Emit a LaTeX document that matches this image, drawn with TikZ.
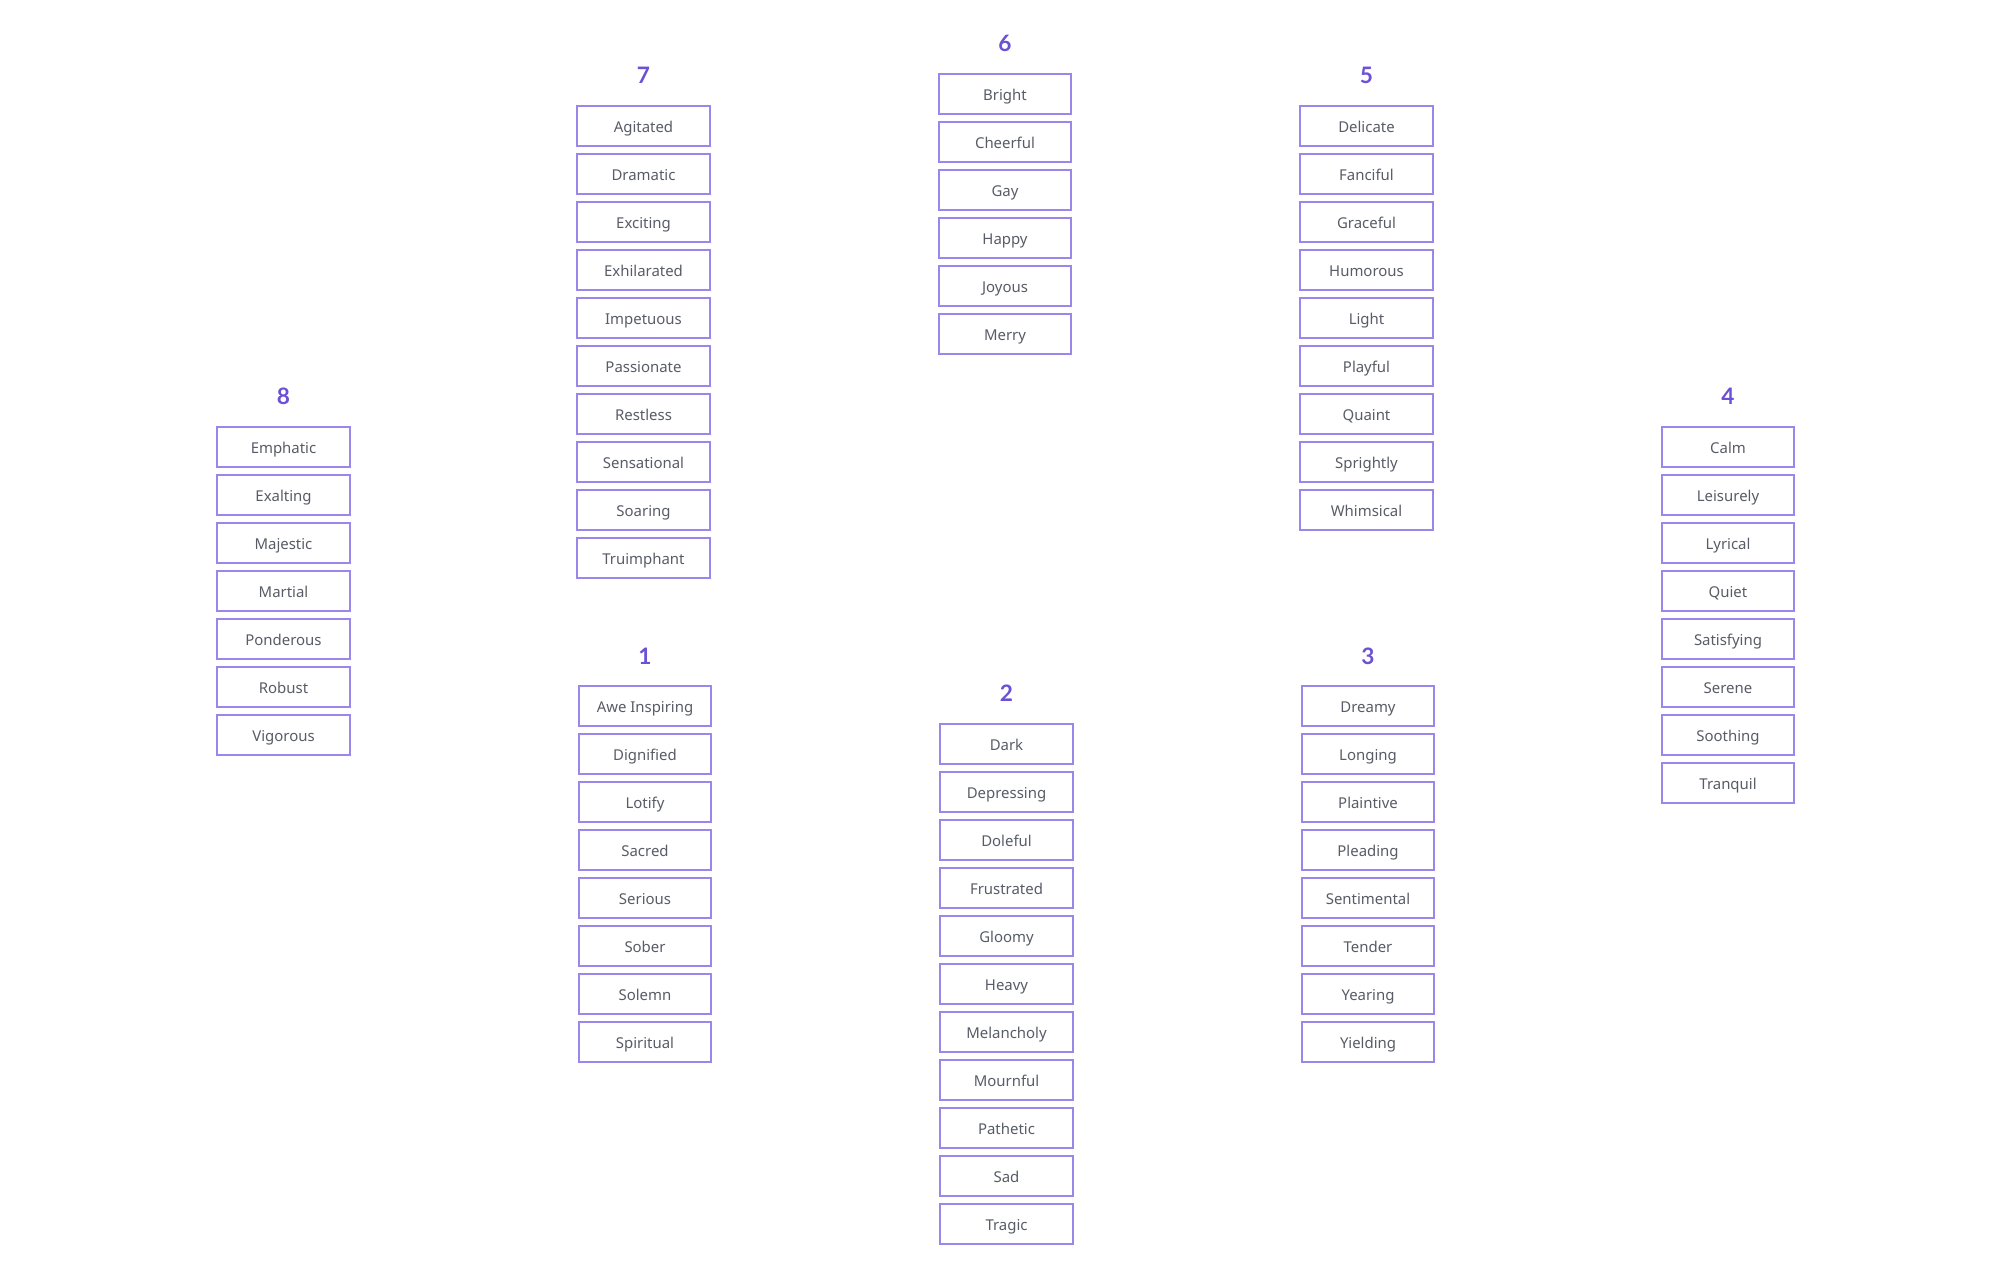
\documentclass[tikz,border=0pt]{standalone}
\usepackage{fontspec}
\setmainfont{Noto Sans}
\newfontfamily\headfont{Lato}
\definecolor{boxline}{RGB}{155,135,235}
\definecolor{headnum}{RGB}{108,80,214}
\definecolor{wordgray}{RGB}{88,92,102}
\tikzset{
  word/.style={draw=boxline, line width=1.3pt, fill=white, minimum width=99.5pt,
    minimum height=29.5pt, inner sep=0pt, text height=11.5pt, text depth=2pt,
    text=wordgray, font=\fontsize{11.2}{13}\selectfont},
  head/.style={text=headnum, font=\headfont\bfseries\fontsize{17}{19}\selectfont}
}
\begin{document}
\begin{tikzpicture}[x=0.75pt, y=-0.75pt] % 1 unit = 1 px of the reference
        \useasboundingbox (0,0) rectangle (2010,1275);

        % group 7
        \node[head] (h7) at (643.5,75) {7};
        \node[word] (c7a) at (643.5,126) {Agitated};
        \node[word] (c7b) at (643.5,174) {Dramatic};
        \node[word] (c7c) at (643.5,222) {Exciting};
        \node[word] (c7d) at (643.5,270) {Exhilarated};
        \node[word] (c7e) at (643.5,318) {Impetuous};
        \node[word] (c7f) at (643.5,366) {Passionate};
        \node[word] (c7g) at (643.5,414) {Restless};
        \node[word] (c7h) at (643.5,462) {Sensational};
        \node[word] (c7i) at (643.5,510) {Soaring};
        \node[word] (c7j) at (643.5,558) {Truimphant};

        % group 6
        \node[head] (h6) at (1005,43) {6};
        \node[word] (c6a) at (1005,94) {Bright};
        \node[word] (c6b) at (1005,142) {Cheerful};
        \node[word] (c6c) at (1005,190) {Gay};
        \node[word] (c6d) at (1005,238) {Happy};
        \node[word] (c6e) at (1005,286) {Joyous};
        \node[word] (c6f) at (1005,334) {Merry};

        % group 5
        \node[head] (h5) at (1366.5,75) {5};
        \node[word] (c5a) at (1366.5,126) {Delicate};
        \node[word] (c5b) at (1366.5,174) {Fanciful};
        \node[word] (c5c) at (1366.5,222) {Graceful};
        \node[word] (c5d) at (1366.5,270) {Humorous};
        \node[word] (c5e) at (1366.5,318) {Light};
        \node[word] (c5f) at (1366.5,366) {Playful};
        \node[word] (c5g) at (1366.5,414) {Quaint};
        \node[word] (c5h) at (1366.5,462) {Sprightly};
        \node[word] (c5i) at (1366.5,510) {Whimsical};

        % group 8
        \node[head] (h8) at (283.5,396) {8};
        \node[word] (c8a) at (283.5,447) {Emphatic};
        \node[word] (c8b) at (283.5,495) {Exalting};
        \node[word] (c8c) at (283.5,543) {Majestic};
        \node[word] (c8d) at (283.5,591) {Martial};
        \node[word] (c8e) at (283.5,639) {Ponderous};
        \node[word] (c8f) at (283.5,687) {Robust};
        \node[word] (c8g) at (283.5,735) {Vigorous};

        % group 4
        \node[head] (h4) at (1728,396) {4};
        \node[word] (c4a) at (1728,447) {Calm};
        \node[word] (c4b) at (1728,495) {Leisurely};
        \node[word] (c4c) at (1728,543) {Lyrical};
        \node[word] (c4d) at (1728,591) {Quiet};
        \node[word] (c4e) at (1728,639) {Satisfying};
        \node[word] (c4f) at (1728,687) {Serene};
        \node[word] (c4g) at (1728,735) {Soothing};
        \node[word] (c4h) at (1728,783) {Tranquil};

        % group 1
        \node[head] (h1) at (645,656) {1};
        \node[word] (c1a) at (645,706) {Awe Inspiring};
        \node[word] (c1b) at (645,754) {Dignified};
        \node[word] (c1c) at (645,802) {Lotify};
        \node[word] (c1d) at (645,850) {Sacred};
        \node[word] (c1e) at (645,898) {Serious};
        \node[word] (c1f) at (645,946) {Sober};
        \node[word] (c1g) at (645,994) {Solemn};
        \node[word] (c1h) at (645,1042) {Spiritual};

        % group 2
        \node[head] (h2) at (1006.5,693) {2};
        \node[word] (c2a) at (1006.5,744) {Dark};
        \node[word] (c2b) at (1006.5,792) {Depressing};
        \node[word] (c2c) at (1006.5,840) {Doleful};
        \node[word] (c2d) at (1006.5,888) {Frustrated};
        \node[word] (c2e) at (1006.5,936) {Gloomy};
        \node[word] (c2f) at (1006.5,984) {Heavy};
        \node[word] (c2g) at (1006.5,1032) {Melancholy};
        \node[word] (c2h) at (1006.5,1080) {Mournful};
        \node[word] (c2i) at (1006.5,1128) {Pathetic};
        \node[word] (c2j) at (1006.5,1176) {Sad};
        \node[word] (c2k) at (1006.5,1224) {Tragic};

        % group 3
        \node[head] (h3) at (1368,656) {3};
        \node[word] (c3a) at (1368,706) {Dreamy};
        \node[word] (c3b) at (1368,754) {Longing};
        \node[word] (c3c) at (1368,802) {Plaintive};
        \node[word] (c3d) at (1368,850) {Pleading};
        \node[word] (c3e) at (1368,898) {Sentimental};
        \node[word] (c3f) at (1368,946) {Tender};
        \node[word] (c3g) at (1368,994) {Yearing};
        \node[word] (c3h) at (1368,1042) {Yielding};

    \end{tikzpicture}
\end{document}
